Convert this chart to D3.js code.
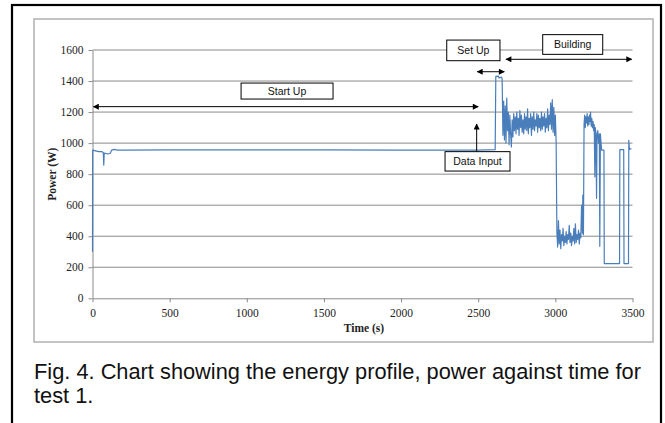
<!DOCTYPE html>
<html><head><meta charset="utf-8">
<script src="https://cdn.jsdelivr.net/npm/d3@7"></script>
<style>body{margin:0;background:#fff}</style>
</head><body>
<svg id="c" width="665" height="423"></svg>
<script>
// ---- data (time in s, power in W) ----
const startupTime  = [0, 1, 20, 40, 60, 70, 73, 76, 100, 115, 125, 140, 160, 200, 500, 1000, 1500, 2000, 2500, 2610];
const startupPower = [300, 955, 950, 945, 945, 940, 858, 935, 930, 935, 955, 960, 955, 955, 957, 956, 957, 955, 955, 958];
const setupTime  = [2614, 2630, 2635, 2650, 2655];
const setupPower = [1430, 1432, 1420, 1425, 1415];
const buildTime = [2660,2665,2670,2675,2680,2685,2690,2695,2700,2705,2710,2715,2720,2725,2730,2735,2740,2745,2750,2755,
  2760,2765,2770,2775,2780,2785,2790,2795,2800,2805,2810,2815,2820,2825,2830,2835,2840,2845,2850,2855,
  2860,2865,2870,2875,2880,2885,2890,2895,2900,2905,2910,2915,2920,2925,2930,2935,2940,2945,2950,2955,
  2960,2965,2970,2975,2980,2985,2990,2995,3000,3005];
const buildPower = [1050,1270,1020,1240,1000,1290,1080,1200,990,1180,1060,975,1150,1040,1190,1080,1170,1060,1200,1090,
  1160,1050,1210,1100,1180,1070,1150,1060,1190,1090,1170,1080,1220,1060,1160,1100,1190,1050,1170,1090,
  1200,1080,1150,1110,1190,1070,1180,1100,1160,1080,1200,1090,1170,1110,1190,1070,1160,1100,1220,1080,
  1180,1120,1260,1090,1280,1070,1230,1050,1180,1010];
const lowTime = [3010,3015,3020,3025,3030,3035,3040,3045,3050,3055,3060,3065,3070,3075,3080,3085,3090,3095,3100,3105,
  3110,3115,3120,3125,3130,3135,3140,3145,3150,3155,3160,3165,3170,3175,3178,3182];
const lowPower = [420,330,500,350,440,320,410,370,450,340,400,360,430,350,410,380,470,360,420,340,
  400,370,450,350,480,360,410,380,440,350,420,390,600,420,665,410];
const endTime = [3186,3190,3194,3198,3202,3206,3210,3214,3218,3222,3226,3228,3232,3236,3240,3244,3248,3252,3256,3259,
  3263,3267,3270,3275,3280,3285,3288,3292,3296,3300,3315,3317,3416,3418,3443,3445,3474,3476,3480,3493];
const endPower = [1120,1180,1100,1170,1130,1190,1110,1170,1120,1180,1140,1200,1110,1160,1100,1140,1080,1120,783,1100,
  1060,644,1050,1080,1000,1060,335,1060,1000,955,955,224,224,958,958,224,224,1018,960,965];

const time  = [].concat(startupTime, setupTime, buildTime, lowTime, endTime);
const power = [].concat(startupPower, setupPower, buildPower, lowPower, endPower);

const yTicks = [0, 200, 400, 600, 800, 1000, 1200, 1400, 1600];
const xTicks = [0, 500, 1000, 1500, 2000, 2500, 3000, 3500];

// annotations in data units
const phaseLabels = ["Start Up", "Set Up", "Building"];
const phaseBoxT0 = [963, 2296, 2918];
const phaseBoxT1 = [1559, 2641, 3307];
const phaseBoxP0 = [1387, 1664, 1699];
const phaseBoxP1 = [1284, 1531, 1572];
const phaseArrowT0 = [6, 2494, 2680];
const phaseArrowT1 = [2500, 2669, 3495];
const phaseArrowP  = [1235, 1460, 1540];
const inputLabel = "Data Input";
const inputBox = {t0: 2285, t1: 2706, p0: 945, p1: 820};
const inputArrow = {t: 2490, p0: 945, p1: 1123};

const caption = ["Fig. 4. Chart showing the energy profile, power against time for", "test 1."];

// ---- drawing ----
const svg = d3.select("#c");
const x = d3.scaleLinear().domain([0, 3500]).range([92.5, 632.5]);
const y = d3.scaleLinear().domain([0, 1600]).range([298.3, 50]);

// frames
svg.append("rect").attr("x", 12).attr("y", 5).attr("width", 649).attr("height", 440)
  .attr("fill", "none").attr("stroke", "#000").attr("stroke-width", 2.2);
svg.append("rect").attr("x", 34).attr("y", 19).attr("width", 619).attr("height", 323)
  .attr("fill", "none").attr("stroke", "#b0b0b0").attr("stroke-width", 1.5);

const defs = svg.append("defs");
defs.append("marker").attr("id", "ah").attr("viewBox", "0 0 10 10").attr("refX", 9).attr("refY", 5)
  .attr("markerWidth", 7).attr("markerHeight", 6).attr("markerUnits", "userSpaceOnUse").attr("orient", "auto-start-reverse")
  .append("path").attr("d", "M0,0L10,5L0,10z").attr("fill", "#000");

// gridlines
svg.append("g").selectAll("line").data(yTicks.filter(d => d > 0)).join("line")
  .attr("x1", x(0)).attr("x2", x(3500)).attr("y1", d => y(d)).attr("y2", d => y(d))
  .attr("stroke", "#8a8a8a").attr("stroke-width", 1);

// axes
const fmt = d3.format("d");
const yAxis = svg.append("g").attr("transform", `translate(${x(0)},0)`)
  .call(d3.axisLeft(y).tickValues(yTicks).tickFormat(fmt).tickSize(4).tickPadding(5).tickSizeOuter(0));
const xAxis = svg.append("g").attr("transform", `translate(0,${y(0)})`)
  .call(d3.axisBottom(x).tickValues(xTicks).tickFormat(fmt).tickSize(4).tickPadding(7).tickSizeOuter(0));
[yAxis, xAxis].forEach(a => {
  a.attr("font-family", "Liberation Serif, Times New Roman, serif").attr("font-size", 11.5);
  a.select(".domain").attr("stroke", "#8a8a8a");
  a.selectAll(".tick line").attr("stroke", "#8a8a8a");
  a.selectAll("text").attr("fill", "#222");
});

// axis titles
svg.append("text").attr("x", 364).attr("y", 332).attr("text-anchor", "middle")
  .attr("font-family", "Liberation Serif, serif").attr("font-weight", "bold").attr("font-size", 11.5).attr("fill", "#222")
  .text("Time (s)");
svg.append("text").attr("transform", `translate(56,${(y(0) + y(1600)) / 2}) rotate(-90)`).attr("text-anchor", "middle")
  .attr("font-family", "Liberation Serif, serif").attr("font-weight", "bold").attr("font-size", 11.5).attr("fill", "#222")
  .text("Power (W)");

// series
const pts = time.map((t, i) => [t, power[i]]);
svg.append("path").datum(pts)
  .attr("d", d3.line().x(d => x(d[0])).y(d => y(d[1])))
  .attr("fill", "none").attr("stroke", "#4a7ebb").attr("stroke-width", 1.2).attr("stroke-linejoin", "round");

// annotation arrows
const ann = svg.append("g");
phaseLabels.forEach((lab, i) => {
  ann.append("line").attr("x1", x(phaseArrowT0[i])).attr("x2", x(phaseArrowT1[i]))
    .attr("y1", y(phaseArrowP[i])).attr("y2", y(phaseArrowP[i]))
    .attr("stroke", "#000").attr("stroke-width", 1)
    .attr("marker-start", "url(#ah)").attr("marker-end", "url(#ah)");
  ann.append("rect").attr("x", x(phaseBoxT0[i])).attr("y", y(phaseBoxP0[i]))
    .attr("width", x(phaseBoxT1[i]) - x(phaseBoxT0[i])).attr("height", y(phaseBoxP1[i]) - y(phaseBoxP0[i]))
    .attr("fill", "#fff").attr("stroke", "#000").attr("stroke-width", 1);
  ann.append("text").attr("x", (x(phaseBoxT0[i]) + x(phaseBoxT1[i])) / 2)
    .attr("y", (y(phaseBoxP0[i]) + y(phaseBoxP1[i])) / 2 + 3.8)
    .attr("text-anchor", "middle").attr("font-family", "Liberation Sans, Arial, sans-serif").attr("font-size", 10.5)
    .attr("fill", "#111").text(lab);
});
ann.append("line").attr("x1", x(inputArrow.t)).attr("x2", x(inputArrow.t))
  .attr("y1", y(inputArrow.p0)).attr("y2", y(inputArrow.p1))
  .attr("stroke", "#000").attr("stroke-width", 1).attr("marker-end", "url(#ah)");
ann.append("rect").attr("x", x(inputBox.t0)).attr("y", y(inputBox.p0))
  .attr("width", x(inputBox.t1) - x(inputBox.t0)).attr("height", y(inputBox.p1) - y(inputBox.p0))
  .attr("fill", "#fff").attr("stroke", "#000").attr("stroke-width", 1);
ann.append("text").attr("x", (x(inputBox.t0) + x(inputBox.t1)) / 2).attr("y", (y(inputBox.p0) + y(inputBox.p1)) / 2 + 3.8)
  .attr("text-anchor", "middle").attr("font-family", "Liberation Sans, Arial, sans-serif").attr("font-size", 10.5)
  .attr("fill", "#111").text(inputLabel);

// caption
svg.selectAll(".cap").data(caption).join("text").attr("class", "cap")
  .attr("x", 34).attr("y", (d, i) => 379 + i * 24)
  .attr("font-family", "Liberation Sans, Arial, sans-serif").attr("font-size", 21.8).attr("fill", "#111")
  .text(d => d);
</script>
</body></html>
